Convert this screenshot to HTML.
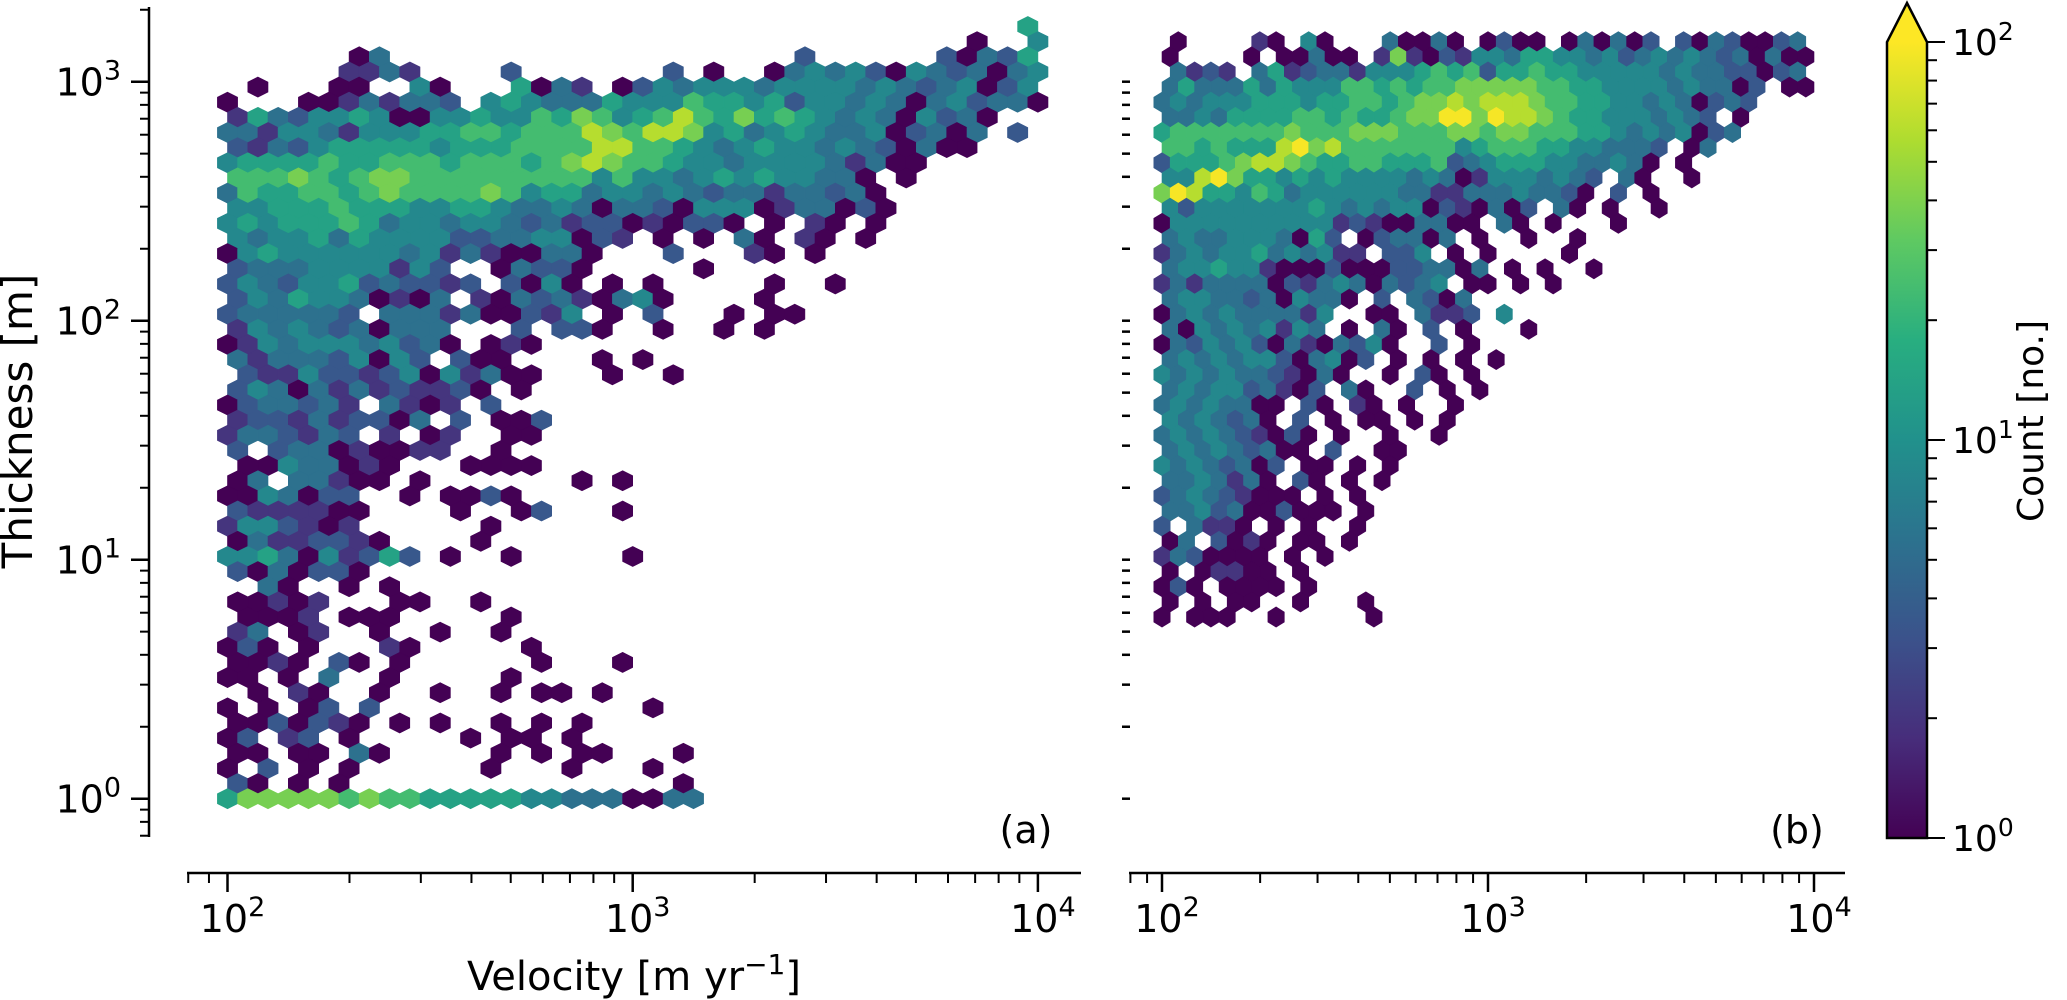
<!DOCTYPE html>
<html><head><meta charset="utf-8"><style>
html,body{margin:0;padding:0;background:#fff;}
svg{display:block;font-family:"DejaVu Sans","Liberation Sans",sans-serif;}
</style></head><body>
<svg id="fig" width="2067" height="1000" viewBox="0 0 2067 1000" xmlns="http://www.w3.org/2000/svg">
<defs>
<linearGradient id="viridis" x1="0" y1="1" x2="0" y2="0">
<stop offset="0" stop-color="#440154"/><stop offset="0.125" stop-color="#472d7b"/><stop offset="0.25" stop-color="#3b528b"/><stop offset="0.375" stop-color="#2c728e"/><stop offset="0.5" stop-color="#21918c"/><stop offset="0.625" stop-color="#28ae80"/><stop offset="0.75" stop-color="#5ec962"/><stop offset="0.875" stop-color="#addc30"/><stop offset="1" stop-color="#fde725"/>
</linearGradient>
</defs>
<g id="hexA"></g>
<g id="hexB"></g>
<g id="axes"></g>
<text x="1026" y="843" font-size="38" text-anchor="middle">(a)</text>
<text x="1797" y="843" font-size="38" text-anchor="middle">(b)</text>
<text transform="translate(32,421) rotate(-90)" font-size="42" text-anchor="middle">Thickness [m]</text>
<text x="634" y="990" font-size="40" text-anchor="middle">Velocity [m yr<tspan dy="-16" font-size="28">−1</tspan><tspan dy="16">]</tspan></text>
<g>
<rect x="1887" y="42" width="40" height="796" fill="url(#viridis)"/>
<polygon points="1887,42 1907,3 1927,42" fill="#fde725"/>
<polygon points="1887,838 1887,42 1907,3 1927,42 1927,838" fill="none" stroke="#000" stroke-width="2.5"/>
<g id="cbticks"></g>
<text transform="translate(2043,421) rotate(-90)" font-size="36" text-anchor="middle">Count [no.]</text>
</g>
</svg>
<script>
// ---- data: hexbin count levels per half-row (top row first), '.' = empty ----
const levelCounts = [0,1,2,3.5,5.5,8.5,14,24,38,60,95];
const rowsA = [
"..........|..........|..........|.........6",
"..........|..........|..........|.......1..|5",
"......14..|..........|........3.|.....31436",
"......2242|....3.....|..3.1..145|4531543414|5",
".1...11..5|1...6142.1|3545554555|5454345135",
"1...112424|43.5654446|5557665635|5454145344|1",
"2643556511|5565576875|6797686765|45415341",
"4425542555|6677677798|7998564565|44513414.3",
"3243566666|5666777799|7765456554|5431411",
"5666676677|7677767898|7765545555|42411",
"7778767887|7777777757|5545656554|41.1",
"4766776787|7778756645|5454344244|341",
"5566676665|5665445414|4315551244|131",
"5656667645|5455434233|121331.1.2|1.1",
"5455646555|5334455132|.1.1.41.21|.1",
"1565555554|524211441.|..3...21.1",
"3444555525|3..14331..|...1",
"3543556343|323.3151.1|.1.....1..|1",
"3546554121|4.21434214|51....1",
"3444443.44|42411325.1|.3...1.11",
"2545434144|4...3.331.|.1..1.1",
"1254555453|41.121....",
"4244435153|.311....1.|1",
".322533235|152411...1|..1",
"3541424232|231.1",
"1344342.42|12.3",
"2332423314|.3.113",
"2443243.2.|12..11",
"3.34412112|2..1",
".11544121.|..1111",
"14.44211.1|.......1.1",
"1154133..1|.1131",
"3222211...|.1..13...1",
"2553212...|...1",
"14223321..|..1",
"5564152363|.1..1.....|1",
"3141331",
"..41..1.1.",
"11212...11|..1",
".1112.111.|....1",
"24.12..1..|1..1",
"131.1...21|.....1",
"1121.31.1.|.....1...1",
"11.1.4..1.|....1",
".1.21..1..|1..1.11.1.",
"1.1.13.3..|..........|.1",
"1131321.1.|1..1.1.1",
"13.23.1...|..1.11.1",
"11.11.41..|...1.1.11.|..1",
"1.3.1.1...|...1...1..|.1",
"31.1.1....|..........|..1",
"6888887877|6666655444|1144"
];
const topRowA = 51;
const rowsB = [
".1....21.5|1...41141.|1311.14141|3.31431134",
"1....1.114|11.2821325|5466554534|5454341411",
".4232.4623|4425556767|3667665555|5454433134",
"4644464655|5776767788|8887766555|5454413.11",
"4545556665|6677678898|9998776655|4541343",
"4454666677|6766788aa8|a998766555|4543.1",
"6777777787|7788877788|7887776654|545134",
"77676669a8|9777777756|7776655444|3.14",
"3666789987|6677666734|5666554454|1.1.",
"559a866565|6555545412|5554543.41|..1",
"8a96657645|5555544224|4454431.3.|1",
"5355555556|5454551321|413.41.1..|1",
"1555555555|5232114411|.41.1...1",
"4544555416|3.134414.1|..1..1..",
"2454556454|522.335.1.|1....1",
"4556552111|3111334414|.1.1..1",
"2424444132|45414345.1|1.1.1",
"4554434154|41.3.4314.",
"1454544442|5..11.4223|.5",
"4154545254|.1.41.3.1.|..1",
"1435453142|14351..3.1",
"4545455314|513.1.1.1.|1",
"5454544321|41..1.31.1",
"4545534213|.41..3.1.1",
"45454411.3|1.21.1..1",
"5454341.3.|1.11.1.1",
"4545432131|.1..1..1",
"454543411.|3..11",
"54543413.1|1.1.1",
"4454241.31|.1.1",
"345432111.|1.1",
"44534113111|.1",
"3.4221.1.1|..1",
"14.3121.11|.1",
"2431111.1.|1",
"1.12211.1",
"131.1111.1",
"1.1.11..1.|..1",
"1.111..1..|...1"
];
const topRowB = 50;
const xTickLabelsExp = ["2","3","4"];
const yTickLabelsExp = ["0","1","2","3"];
const cbarTickLabelsExp = ["0","1","2"];

// ---- grid steps (log10 units) ----
const X_STEP = 0.05, Y_STEP = 0.06335;
// ---- axis functions ----
function xA(l){ return 227.5 + (l-2)*405.2; }
function xB(l){ return 1162 + (l-2)*326; }
function yS(l){ return 798.7 - l*239; }
function cbY(l){ return 838 - l*398; }

const VIR = [[68,1,84],[71,45,123],[59,82,139],[44,114,142],[33,145,140],[40,174,128],[94,201,98],[173,220,48],[253,231,37]];
function viridis(t){
  t=Math.max(0,Math.min(1,t)); const p=t*8, i=Math.min(7,Math.floor(p)), f=p-i;
  const a=VIR[i], b=VIR[i+1];
  return 'rgb('+a.map((v,j)=>Math.round(v+(b[j]-v)*f)).join(',')+')';
}
const NS='http://www.w3.org/2000/svg';
function el(tag, attrs, parent){
  const e=document.createElementNS(NS,tag);
  for(const k in attrs) e.setAttribute(k,attrs[k]);
  parent.appendChild(e); return e;
}
function drawPanel(rows, topRow, xf, gid){
  const g=document.getElementById(gid);
  rows.forEach((r,ri)=>{
    const s=r.replace(/\|/g,'');
    const k=topRow-ri;
    const odd=k%2===1;
    const yl=k*Y_STEP;
    for(let i=0;i<s.length;i++){
      const c=s[i]; if(c==='.'||c===' ') continue;
      const lev = c==='a'?10:parseInt(c,10);
      const cnt = levelCounts[lev];
      const xl = 2 + i*X_STEP + (odd?X_STEP/2:0);
      const cx=xf(xl), cy=yS(yl);
      const hw=(xf(2+X_STEP)-xf(2))/2;
      const rp=yS(0)-yS(Y_STEP);
      const v=2*rp/3, sd=rp/3;
      const col=viridis(Math.log10(cnt)/2);
      const pts=[[cx,cy-v],[cx+hw,cy-sd],[cx+hw,cy+sd],[cx,cy+v],[cx-hw,cy+sd],[cx-hw,cy-sd]].map(p=>p[0].toFixed(1)+','+p[1].toFixed(1)).join(' ');
      const h=el('polygon',{points:pts,fill:col,stroke:col,'stroke-width':'0.6'},g);
      
      
    }
  });
}
drawPanel(rowsA, topRowA, xA, 'hexA');
drawPanel(rowsB, topRowB, xB, 'hexB');

const ax=document.getElementById('axes');
function line(x1,y1,x2,y2,w,name){
  const l=el('line',{x1:x1,y1:y1,x2:x2,y2:y2,stroke:'#000','stroke-width':w},ax);
  
  
  return l;
}
function pow10Label(x,y,exp,anchor,parent,name,fs){
  fs=fs||38;
  const t=el('text',{x:x,y:y,'font-size':fs,'text-anchor':anchor},parent);
  
  
  t.textContent='10';
  const s=el('tspan',{dy:-Math.round(fs*0.42),'font-size':Math.round(fs*0.7)},t); s.textContent=exp;
  return t;
}
// y axis panel a
line(149,7,149,837,2.5,'y-axis-spine-a');
for(let d=-1; d<=3; d++){
  for(let m=1;m<=9;m++){
    const l=d+Math.log10(m); const y=yS(l);
    if(y<8||y>837) continue;
    if(m===1) line(131,y,149,y,2.5,'y-major-tick');
    else line(140,y,149,y,2,'y-minor-tick');
  }
}
yTickLabelsExp.forEach(e=>{ pow10Label(121,yS(+e)+14,e,'end',ax,'y-tick-label'); });
// panel b y ticks (unlabelled)
for(let d=0; d<=3; d++){
  for(let m=1;m<=9;m++){
    const l=d+Math.log10(m); const y=yS(l);
    if(y<30||y>830) continue;
    line(1122,y,1130,y,2.5,'y-tick-b');
  }
}
// x axes
line(187,873,1081,873,2.5,'x-axis-spine-a');
line(1129,873,1845,873,2.5,'x-axis-spine-b');
[[xA,187,1081,'a'],[xB,1129,1845,'b']].forEach(([f,x0,x1,p])=>{
  for(let d=1; d<=4; d++){
    for(let m=1;m<=9;m++){
      const l=d+Math.log10(m); const x=f(l);
      if(x<x0||x>x1) continue;
      if(m===1) line(x,873,x,892,2.5,'x-major-tick-'+p);
      else line(x,873,x,883,2,'x-minor-tick-'+p);
    }
  }
  xTickLabelsExp.forEach(e=>{ pow10Label(f(+e)+5,932,e,'middle',ax,'x-tick-label-'+p); });
});
// colorbar ticks
const cb=document.getElementById('cbticks');
for(let d=0; d<=2; d++){
  for(let m=1;m<=9;m++){
    const l=d+Math.log10(m); if(l>2) continue;
    const y=cbY(l);
    const t=el('line',{x1:1927,y1:y,x2:(m===1?1945:1937),y2:y,stroke:'#000','stroke-width':2},cb);
    
    
  }
}
cbarTickLabelsExp.forEach(e=>{ pow10Label(1952,cbY(+e)+13,e,'start',cb,'colorbar-tick-label',36); });
</script>
</body></html>
